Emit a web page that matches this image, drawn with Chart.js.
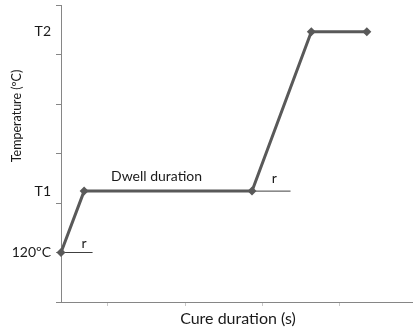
<!DOCTYPE html>
<html>
<head>
<meta charset="utf-8">
<script src="https://cdn.jsdelivr.net/npm/chart.js@4"></script>
<style>
  html, body { margin: 0; padding: 0; background: #fff; }
  #wrap { width: 413px; height: 330px; position: relative; }
</style>
</head>
<body>
<div id="wrap"><canvas id="cureChart"></canvas></div>
<script>
// cure profile (x in tick units, y in tick units)
const profileX = [0.39, 0.69, 2.87, 3.64, 4.36];
const profileY = [1.0, 2.24, 2.24, 5.46, 5.46];

// short "r" reference lines at the start of each ramp
const rampLine1X = [0.39, 0.80];
const rampLine1Y = [1.0, 1.0];
const rampLine2X = [2.87, 3.37];
const rampLine2Y = [2.24, 2.24];

// labels on the temperature axis
const yLabelText = ['120ºC', 'T1', 'T2'];
const yLabelValue = [1.0, 2.24, 5.46];

// text notes inside the plot
const noteText = ['r', 'r', 'Dwell duration'];
const noteX = [0.69, 3.16, 1.63];
const noteY = [1.18, 2.5, 2.54];

const xTickValues = [1, 2, 3, 4];
const yTickValues = [0, 1, 2, 3, 4, 5, 6];

const FONT = 'Lato, "Liberation Sans", sans-serif';
const lineColor = '#595959';
const axisColor = '#868686';

const toPoints = (xs, ys) => xs.map((x, i) => ({ x: x, y: ys[i] }));

const textPlugin = {
    id: 'textNotes',
    afterDraw(chart) {
        const ctx = chart.ctx;
        const xs = chart.scales.x;
        const ys = chart.scales.y;
        ctx.save();
        ctx.fillStyle = '#1a1a1a';
        ctx.font = '14px ' + FONT;
        ctx.textBaseline = 'middle';

        // temperature labels
        ctx.textAlign = 'right';
        yLabelValue.forEach((v, i) => {
            ctx.fillText(yLabelText[i], xs.left - 10, ys.getPixelForValue(v));
        });

        // notes
        ctx.textAlign = 'center';
        noteText.forEach((t, i) => {
            ctx.fillText(t, xs.getPixelForValue(noteX[i]), ys.getPixelForValue(noteY[i]));
        });

        // axis titles
        ctx.font = '16px ' + FONT;
        ctx.fillText('Cure duration (s)', 238, 319);
        ctx.font = '12.5px ' + FONT;
        ctx.translate(17, 116);
        ctx.rotate(-Math.PI / 2);
        ctx.fillText('Temperature (ºC)', 0, 0);
        ctx.restore();
    }
};

new Chart(document.getElementById('cureChart'), {
    type: 'line',
    data: {
        datasets: [
            {
                label: 'Cure profile',
                data: toPoints(profileX, profileY),
                borderColor: lineColor,
                backgroundColor: lineColor,
                borderWidth: 3,
                pointStyle: 'rectRot',
                pointRadius: 4.5,
                pointBorderWidth: 0,
                tension: 0,
                clip: false
            },
            {
                label: 'r1',
                data: toPoints(rampLine1X, rampLine1Y),
                borderColor: '#404040',
                borderWidth: 1,
                pointRadius: 0,
                clip: false
            },
            {
                label: 'r2',
                data: toPoints(rampLine2X, rampLine2Y),
                borderColor: '#404040',
                borderWidth: 1,
                pointRadius: 0,
                clip: false
            }
        ]
    },
    options: {
        responsive: true,
        maintainAspectRatio: false,
        animation: false,
        // no auto padding for the markers, so the x axis runs to the right edge
        layout: { autoPadding: false, padding: { top: 5, right: 0, left: 0, bottom: 0 } },
        plugins: {
            legend: { display: false },
            tooltip: { enabled: false }
        },
        scales: {
            x: {
                type: 'linear',
                min: 0.39,
                max: 4.96,
                afterBuildTicks: (scale) => {
                    scale.ticks = xTickValues.map(v => ({ value: v }));
                },
                afterFit: (scale) => { scale.height = 28; },
                ticks: { display: false },
                grid: {
                    drawOnChartArea: false,
                    drawTicks: true,
                    tickLength: 4,
                    color: '#c8c8c8'
                },
                border: { color: axisColor, width: 1 }
            },
            y: {
                min: 0,
                max: 6,
                afterBuildTicks: (scale) => {
                    scale.ticks = yTickValues.map(v => ({ value: v }));
                },
                afterFit: (scale) => { scale.width = 61; },
                ticks: { display: false },
                grid: {
                    drawOnChartArea: false,
                    drawTicks: true,
                    tickLength: 5,
                    color: axisColor
                },
                border: { color: axisColor, width: 1 }
            }
        }
    },
    plugins: [textPlugin]
});
</script>
</body>
</html>
